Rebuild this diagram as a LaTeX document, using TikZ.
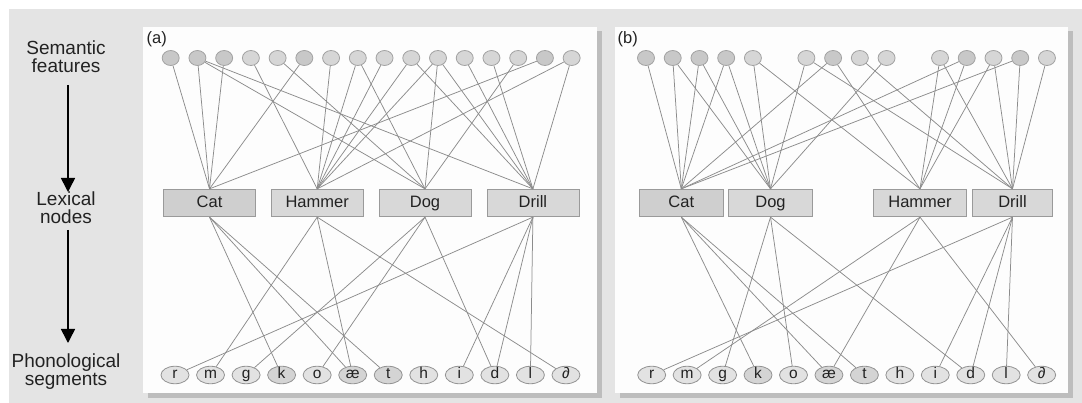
\documentclass[tikz,border=0pt]{standalone}
\usepackage{fontspec}
\setmainfont{Liberation Sans}
\usetikzlibrary{shapes.geometric,arrows.meta}
\definecolor{bgcol}{HTML}{E4E4E4}
\definecolor{shadowcol}{HTML}{BDBDBD}
\definecolor{panelcol}{HTML}{FDFDFD}
\definecolor{semfill}{HTML}{D6D6D6}
\definecolor{semdark}{HTML}{C8C8C8}
\definecolor{semedge}{HTML}{A2A2A2}
\definecolor{lexfill}{HTML}{D8D8D8}
\definecolor{lexdark}{HTML}{CFCFCF}
\definecolor{lexedge}{HTML}{9A9A9A}
\definecolor{phofill}{HTML}{E2E2E2}
\definecolor{phodark}{HTML}{D4D4D4}
\definecolor{phoedge}{HTML}{939393}
\definecolor{linkcol}{HTML}{8C8C8C}
\definecolor{txtcol}{HTML}{222222}
\begin{document}
\begin{tikzpicture}[x=1pt,y=-1pt,
  sem/.style={ellipse,draw=semedge,line width=0.8pt,fill=semfill,minimum width=17pt,minimum height=15pt,inner sep=0pt},
  semc/.style={sem,fill=semdark},
  lex/.style={draw=lexedge,line width=0.8pt,fill=lexfill,minimum height=27.5pt,inner sep=0pt,text height=12pt,text depth=2.5pt,text=txtcol,font=\fontsize{16.5}{17}\selectfont},
  lexc/.style={lex,fill=lexdark},
  pho/.style={ellipse,draw=phoedge,line width=0.8pt,fill=phofill,minimum width=28pt,minimum height=17.5pt,inner sep=0pt,text height=8.5pt,text depth=1.5pt,text=txtcol,font=\fontsize{15.5}{15.5}\selectfont},
  phoc/.style={pho,fill=phodark},
  link/.style={draw=linkcol,line width=0.75pt},
  sidelab/.style={align=center,text=txtcol,font=\fontsize{19}{17.5}\selectfont},
  panlab/.style={anchor=west,text=txtcol,font=\fontsize{16.5}{17}\selectfont,inner sep=0pt},
  bigarrow/.style={line width=1.6pt,-{Triangle[width=14pt,length=14pt]}}
]
\useasboundingbox (0,0) rectangle (1082,403);
% background and panels
\fill[bgcol] (9,9) rectangle (1082,403);
\fill[shadowcol] (148,31) rectangle (602,398);
\fill[panelcol] (143,27) rectangle (597,393);
\fill[shadowcol] (620,31) rectangle (1073,398);
\fill[panelcol] (615,27) rectangle (1068,393);

% side labels and arrows
\node[sidelab] (lsem) at (66,56.5) {Semantic\\features};
\node[sidelab] (llex) at (66,207.5) {Lexical\\nodes};
\node[sidelab] (lpho) at (66,371.5) {Phonological\\segments};
\coordinate (ar1s) at (68,85);
\coordinate (ar1e) at (68,192);
\coordinate (ar2s) at (68,230);
\coordinate (ar2e) at (68,343);
\draw[bigarrow] (ar1s) -- (ar1e);
\draw[bigarrow] (ar2s) -- (ar2e);

\node[panlab] (pa) at (146.5,39) {(a)};
\node[panlab] (pb) at (617.5,39) {(b)};

% ---------- panel (a) ----------
\foreach \k/\st in {1/semc,2/semc,3/semc,4/sem,5/sem,6/semc,7/sem,8/sem,9/sem,10/sem,11/sem,12/sem,13/sem,14/sem,15/semc,16/sem}
  \node[\st] (a-s\k) at ({170.7+26.73*(\k-1)},58) {};
\node[lexc] (a-cat) at (209.5,203) [minimum width=92pt] {Cat};
\node[lex] (a-hammer) at (317.2,203) [minimum width=92pt] {Hammer};
\node[lex] (a-dog) at (425,203) [minimum width=92pt] {Dog};
\node[lex] (a-drill) at (532.9,203) [minimum width=92pt] {Drill};
\foreach \n/\t/\st [count=\j from 0] in {r/r/pho,m/m/pho,g/g/pho,k/k/phoc,o/o/pho,ae/æ/phoc,t/t/phoc,h/h/pho,i/i/pho,d/d/pho,l/l/pho,sc/∂/pho}
  \node[\st] (a-\n) at ({175+35.54*\j},375) {\t};

\foreach \s in {1,2,3,6,15} \draw[link] (a-s\s) -- (a-cat.north);
\foreach \s in {4,7,8,9,10,11,16} \draw[link] (a-s\s) -- (a-hammer.north);
\foreach \s in {2,5,8,11,14} \draw[link] (a-s\s) -- (a-dog.north);
\foreach \s in {2,10,11,12,13,16} \draw[link] (a-s\s) -- (a-drill.north);
\foreach \p in {k,ae,t} \draw[link] (a-cat.south) -- (a-\p);
\foreach \p in {m,ae,sc} \draw[link] (a-hammer.south) -- (a-\p);
\foreach \p in {g,o,d} \draw[link] (a-dog.south) -- (a-\p);
\foreach \p in {r,i,d,l} \draw[link] (a-drill.south) -- (a-\p);

% ---------- panel (b) ----------
\foreach \k/\slot/\st in {1/0/semc,2/1/semc,3/2/semc,4/3/semc,5/4/sem,6/6/sem,7/7/semc,8/8/sem,9/9/sem,10/11/sem,11/12/semc,12/13/sem,13/14/semc,14/15/sem}
  \node[\st] (b-s\k) at ({646+26.73*\slot},58) {};
\node[lexc] (b-cat) at (681.3,203) [minimum width=84pt] {Cat};
\node[lex] (b-dog) at (770.5,203) [minimum width=84.4pt] {Dog};
\node[lex] (b-hammer) at (920,203) [minimum width=93.4pt] {Hammer};
\node[lex] (b-drill) at (1012.5,203) [minimum width=80.4pt] {Drill};
\foreach \n/\t/\st [count=\j from 0] in {r/r/pho,m/m/pho,g/g/pho,k/k/phoc,o/o/pho,ae/æ/phoc,t/t/phoc,h/h/pho,i/i/pho,d/d/pho,l/l/pho,sc/∂/pho}
  \node[\st] (b-\n) at ({651.7+35.45*\j},375) {\t};

\foreach \s in {1,2,3,4,7,11,13} \draw[link] (b-s\s) -- (b-cat.north);
\foreach \s in {2,3,4,5,6,9} \draw[link] (b-s\s) -- (b-dog.north);
\foreach \s in {5,7,10,11,12} \draw[link] (b-s\s) -- (b-hammer.north);
\foreach \s in {6,8,10,12,13,14} \draw[link] (b-s\s) -- (b-drill.north);
\foreach \p in {k,ae,t} \draw[link] (b-cat.south) -- (b-\p);
\foreach \p in {m,ae,sc} \draw[link] (b-hammer.south) -- (b-\p);
\foreach \p in {g,o,d} \draw[link] (b-dog.south) -- (b-\p);
\foreach \p in {r,i,d,l} \draw[link] (b-drill.south) -- (b-\p);
\end{tikzpicture}
\end{document}
